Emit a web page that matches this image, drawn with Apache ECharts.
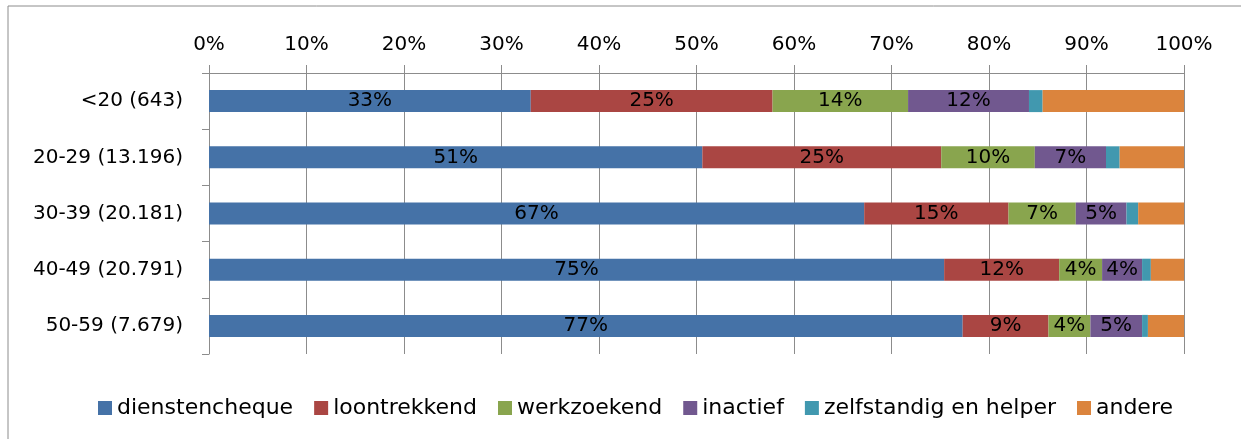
<!DOCTYPE html>
<html>
<head>
<meta charset="utf-8">
<script src="https://cdn.jsdelivr.net/npm/echarts@6/dist/echarts.min.js"></script>
<style>
  html, body { margin: 0; padding: 0; background: #fff; }
  #chart { width: 1241px; height: 439px; }
</style>
</head>
<body>
<div id="chart"></div>
<script>
const categories = ["<20 (643)", "20-29 (13.196)", "30-39 (20.181)", "40-49 (20.791)", "50-59 (7.679)"];
const dienstencheque = [33.0, 50.6, 67.2, 75.4, 77.3];
const loontrekkend = [24.8, 24.5, 14.8, 11.8, 8.8];
const werkzoekend = [13.9, 9.6, 6.9, 4.4, 4.3];
const inactief = [12.4, 7.3, 5.2, 4.1, 5.3];
const zelfstandig = [1.4, 1.4, 1.2, 0.9, 0.6];
const andere = [14.5, 6.6, 4.7, 3.4, 3.7];

const font = "DejaVu Sans";
const gray = "#8c8c8c";

function bar(name, data, color, withLabel) {
  return {
    name: name,
    type: "bar",
    stack: "total",
    barWidth: 22,
    data: data,
    itemStyle: { color: color },
    label: {
      show: withLabel,
      position: "inside",
      color: "#000",
      fontFamily: font,
      fontSize: 20,
      formatter: (p) => Math.round(p.value) + "%",
    },
  };
}

echarts.init(document.getElementById("chart")).setOption({
  animation: false,
  textStyle: { fontFamily: font },
  graphic: [
    {
      type: "rect",
      shape: { x: 8, y: 6, width: 1300, height: 500 },
      style: { fill: "none", stroke: gray, lineWidth: 1 },
    },
  ],
  grid: {
    left: 209,
    right: 57,
    top: 73,
    bottom: 85,
  },
  legend: {
    bottom: 15,
    left: 93,
    icon: "rect",
    itemWidth: 14,
    itemHeight: 14,
    itemGap: 21,
    textStyle: { fontFamily: font, fontSize: 22, color: "#000" },
  },
  xAxis: {
    type: "value",
    position: "top",
    min: 0,
    max: 100,
    interval: 10,
    axisLine: { show: true, lineStyle: { color: gray } },
    axisTick: { show: true, length: 8, lineStyle: { color: gray } },
    splitLine: { show: true, lineStyle: { color: gray } },
    axisLabel: {
      formatter: "{value}%",
      color: "#000",
      fontFamily: font,
      fontSize: 20,
      margin: 18,
    },
  },
  yAxis: {
    type: "category",
    inverse: true,
    data: categories,
    axisLine: { show: true, lineStyle: { color: gray } },
    axisTick: { show: true, length: 7, lineStyle: { color: gray } },
    axisLabel: {
      color: "#000",
      fontFamily: font,
      fontSize: 20,
      margin: 26,
    },
  },
  series: [
    bar("dienstencheque", dienstencheque, "#4572A7", true),
    bar("loontrekkend", loontrekkend, "#AA4643", true),
    bar("werkzoekend", werkzoekend, "#89A54E", true),
    bar("inactief", inactief, "#71588F", true),
    bar("zelfstandig en helper", zelfstandig, "#4198AF", false),
    bar("andere", andere, "#DB843D", false),
  ],
});
</script>
</body>
</html>
